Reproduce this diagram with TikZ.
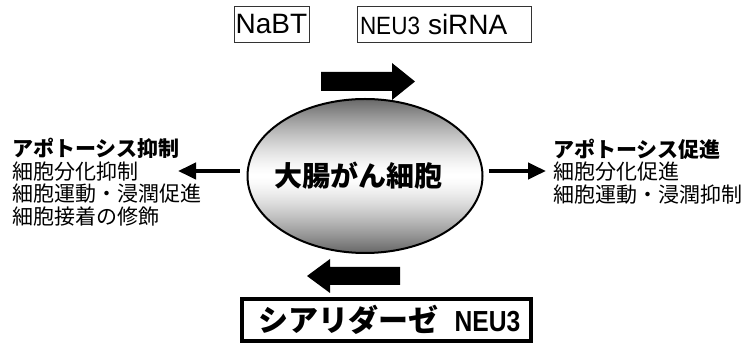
\documentclass[tikz,border=0pt]{standalone}
\usepackage{fontspec}
\usepackage{graphicx}
\setmainfont{Liberation Sans}
\newfontfamily\jp{Noto Sans CJK JP}
\usetikzlibrary{arrows.meta,shapes.geometric}
\begin{document}
\begin{tikzpicture}[x=1pt,y=-1pt,
  tbox/.style={draw=black!80, line width=0.8pt, minimum height=36pt, inner sep=0pt},
  thinarrow/.style={line width=4pt, -{Triangle[length=18pt,width=16pt]}},
  blockarrow/.style={fill=black, draw=none},
  sidetext/.style={inner sep=0pt, align=left, font=\jp\fontsize{21}{22.5}\selectfont}
]
\useasboundingbox (0,0) rectangle (748,355);

% top boxes
\node[tbox, minimum width=75pt] (nabt) at (271.5,24) {\fontsize{28}{30}\selectfont NaBT};
\node[tbox, text width=168pt, inner xsep=3pt, align=left] (sirna) at (444,24)
  {\scalebox{0.9}[1]{\fontsize{25}{27}\selectfont NEU3}\hspace{8pt}{\fontsize{28}{30}\selectfont siRNA}};

% central cell: shading built from strips
\begin{scope}
  \clip (365,176) ellipse [x radius=117.5, y radius=77];
  \foreach \i in {0,...,77} {
    \pgfmathsetmacro\c{60*(\i/77)^1.4}
    \fill[black!\c] (247,176-\i-1.3) rectangle (483,176-\i+0.3);
    \fill[black!\c] (247,176+\i-0.3) rectangle (483,176+\i+1.3);
  }
\end{scope}
\node[ellipse, draw, line width=2pt, minimum width=235pt, minimum height=154pt] (cell) at (365,176)
  {\hspace*{-14pt}\jp\bfseries\fontsize{28}{30}\selectfont 大腸がん細胞};

% block arrows
\draw[blockarrow] (321,72) -- (392,72) -- (392,63) -- (415,81.5) -- (392,100) -- (392,91) -- (321,91) -- cycle;
\draw[blockarrow] (400,267) -- (330,267) -- (330,259) -- (307,276) -- (330,293) -- (330,285) -- (400,285) -- cycle;

% side texts
\node[sidetext, anchor=west] (left) at (12,182)
  {{\bfseries アポトーシス抑制}\\細胞分化抑制\\細胞運動・浸潤促進\\細胞接着の修飾};
\node[sidetext, anchor=west] (right) at (553,171.5)
  {{\bfseries アポトーシス促進}\\細胞分化促進\\細胞運動・浸潤抑制};

% thin arrows
\coordinate (ltip) at (178,171);
\coordinate (rtip) at (546,171);
\draw[thinarrow, shorten <=7pt] ([yshift=5pt]cell.west) -- (ltip);
\draw[thinarrow, shorten <=5pt] ([yshift=5pt]cell.east) -- (rtip);

% bottom box
\node[draw, line width=4pt, minimum width=289pt, minimum height=42pt, inner sep=0pt] (neu) at (386.5,320)
  {\hspace{6pt}{\jp\bfseries\fontsize{30}{32}\selectfont シアリダーゼ}\hspace{16pt}\scalebox{0.85}[1]{\bfseries\fontsize{29}{30}\selectfont NEU3}};
\end{tikzpicture}
\end{document}
